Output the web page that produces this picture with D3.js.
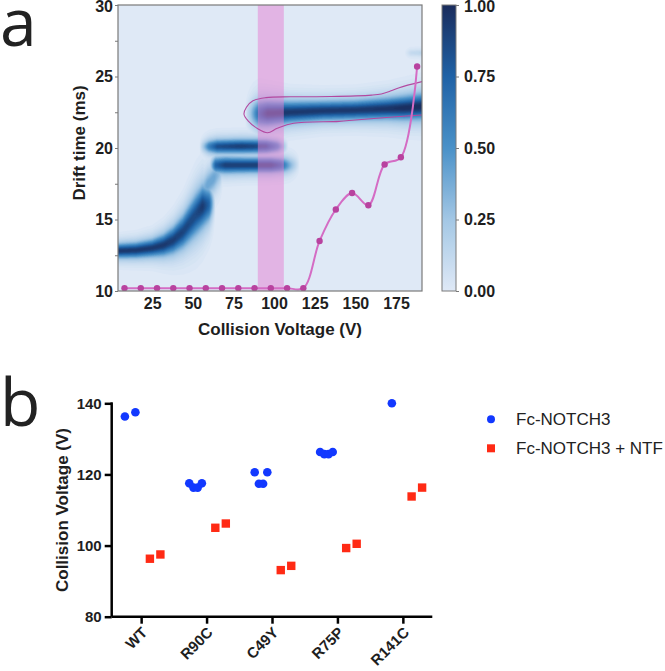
<!DOCTYPE html>
<html>
<head>
<meta charset="utf-8">
<script src="https://cdn.jsdelivr.net/npm/d3@7"></script>
<style>
  html, body { margin: 0; padding: 0; background: #ffffff; }
  svg { display: block; }
  text { font-family: "Liberation Sans", Arial, Helvetica, sans-serif; }
</style>
</head>
<body>
<div id="chart"></div>
<script>
// ---------------- DATA: panel a ----------------
// Drift-time ridges of the CIU fingerprint (voltage knots, centroid drift time, relative intensity, width in ms)
const compactVoltage   = [4, 15, 25, 32, 38, 44, 48, 52, 56, 60, 64];
const compactDrift     = [12.8, 12.85, 13.0, 13.2, 13.55, 14.15, 14.75, 15.35, 15.9, 16.05, 16.2];
const compactIntensity = [0.95, 0.95, 0.95, 0.95, 0.93, 0.9, 0.88, 0.88, 0.95, 0.75, 0.0];
const compactWidth     = [0.28, 0.3, 0.34, 0.42, 0.52, 0.64, 0.74, 0.82, 0.82, 0.7, 0.6];

const transVoltage   = [55, 59, 63, 67, 69];
const transDrift     = [16.9, 17.4, 17.9, 18.4, 18.6];
const transIntensity = [0.3, 0.42, 0.42, 0.3, 0.0];
const transWidth     = [0.6, 0.6, 0.6, 0.55, 0.5];

const midLowVoltage   = [60, 64, 70, 85, 98, 104, 110, 116];
const midLowDrift     = [18.75, 18.8, 18.8, 18.8, 18.8, 18.8, 18.8, 18.85];
const midLowIntensity = [0.0, 0.75, 0.92, 0.92, 0.92, 0.75, 0.35, 0.0];
const midLowWidth     = [0.32, 0.33, 0.32, 0.3, 0.3, 0.3, 0.32, 0.32];

const midHighVoltage   = [54, 60, 65, 80, 95, 102, 109];
const midHighDrift     = [20.1, 20.1, 20.1, 20.12, 20.12, 20.12, 20.1];
const midHighIntensity = [0.0, 0.6, 0.85, 0.92, 0.85, 0.55, 0.0];
const midHighWidth     = [0.25, 0.27, 0.28, 0.28, 0.28, 0.28, 0.27];

const unfoldedVoltage   = [82, 86, 91, 96, 110, 130, 150, 170, 180, 191];
const unfoldedDrift     = [22.35, 22.4, 22.4, 22.42, 22.5, 22.6, 22.65, 22.75, 22.8, 22.9];
const unfoldedIntensity = [0.0, 0.3, 0.75, 0.95, 0.95, 0.95, 0.95, 0.97, 1.0, 1.0];
const unfoldedWidth     = [0.5, 0.55, 0.55, 0.5, 0.42, 0.38, 0.38, 0.42, 0.46, 0.5];

const faintVoltage   = [180, 184, 191];
const faintDrift     = [26.65, 26.65, 26.65];
const faintIntensity = [0.0, 0.12, 0.15];
const faintWidth     = [0.16, 0.16, 0.16];

// Outline of the unfolded feature (voltage, drift time)
const outlineVoltage = [191, 171, 150, 140, 112, 102, 96, 90, 84, 81.5, 83, 87, 95, 110, 135, 160, 166, 172, 177, 191];
const outlineDrift   = [22.31, 22.15, 21.96, 21.86, 21.73, 21.38, 21.07, 21.35, 21.9, 22.36, 22.85, 23.3, 23.52, 23.58, 23.6, 23.7, 23.78, 24.0, 24.22, 24.64];

// Overlaid trace (magenta)
const traceVoltage = [8, 18, 28, 38, 48, 58, 68, 78, 88, 98, 108, 118, 128, 138, 148, 158, 168, 178, 188];
const traceValue   = [10.2, 10.2, 10.2, 10.2, 10.2, 10.2, 10.2, 10.2, 10.2, 10.2, 10.2, 10.2, 13.5, 15.7, 16.85, 16.0, 18.85, 19.35, 25.7];

const highlightRange = [90, 106];
const voltageTicks = [25, 50, 75, 100, 125, 150, 175];
const driftTicks = [10, 15, 20, 25, 30];
const driftMinorTicks = [10, 12.5, 15, 17.5, 20, 22.5, 25, 27.5, 30];
const colorbarTicks = [0, 0.25, 0.5, 0.75, 1];

// ---------------- DATA: panel b ----------------
const categories = ["WT", "R90C", "C49Y", "R75P", "R141C"];
const fcNotch3 = [
  [136.3, 137.5],
  [117.5, 116.3, 116.3, 117.5],
  [120.6, 117.4, 117.4, 120.6],
  [126.3, 125.7, 125.7, 126.3],
  [140.0]
];
const fcNotch3NTF = [
  [96.3, 97.5],
  [105.0, 106.2],
  [93.1, 94.3],
  [99.3, 100.5],
  [113.8, 116.3]
];
const seriesNames = ["Fc-NOTCH3", "Fc-NOTCH3 + NTF"];
const cvTicks = [80, 100, 120, 140];

// ---------------- DRAW ----------------
const W = 665, H = 671;
const svg = d3.select("#chart").append("svg").attr("width", W).attr("height", H);
const ink = "#1e1e1e";

// panel letters
svg.append("text").attr("x", 0).attr("y", 46).text("a")
  .style("font-family", "'Open Sans', sans-serif").style("font-size", "66px").attr("fill", "#222");
svg.append("text").attr("x", 0).attr("y", 426).text("b")
  .style("font-family", "'Open Sans', sans-serif").style("font-size", "66px").attr("fill", "#222");

// ---- Panel a ----
const pa = { left: 118, right: 422, top: 5, bottom: 291 };
const xV = d3.scaleLinear().domain([4, 191]).range([pa.left, pa.right]);
const yT = d3.scaleLinear().domain([10, 30]).range([pa.bottom, pa.top]);
const heatColor = d3.scaleLinear()
  .domain([0, 0.25, 0.5, 0.75, 1])
  .range(["#dfe9f6", "#a3c7e5", "#4a91c8", "#1f62a6", "#1a2c5c"])
  .clamp(true);

svg.append("clipPath").attr("id", "clipA").append("rect")
  .attr("x", pa.left).attr("y", pa.top).attr("width", pa.right - pa.left).attr("height", pa.bottom - pa.top);
const gA = svg.append("g").attr("clip-path", "url(#clipA)");
gA.append("rect").attr("x", pa.left).attr("y", pa.top)
  .attr("width", pa.right - pa.left).attr("height", pa.bottom - pa.top).attr("fill", heatColor(0));

const ridges = [
  { v: compactVoltage, c: compactDrift, i: compactIntensity, w: compactWidth },
  { v: transVoltage, c: transDrift, i: transIntensity, w: transWidth },
  { v: midLowVoltage, c: midLowDrift, i: midLowIntensity, w: midLowWidth },
  { v: midHighVoltage, c: midHighDrift, i: midHighIntensity, w: midHighWidth },
  { v: unfoldedVoltage, c: unfoldedDrift, i: unfoldedIntensity, w: unfoldedWidth },
  { v: faintVoltage, c: faintDrift, i: faintIntensity, w: faintWidth }
];
function ridgeAt(r, v, t) {
  const n = r.v.length;
  if (v < r.v[0] || v > r.v[n - 1]) return 0;
  let k = d3.bisectRight(r.v, v) - 1;
  if (k >= n - 1) k = n - 2;
  if (k < 0) k = 0;
  const f = (v - r.v[k]) / (r.v[k + 1] - r.v[k]);
  const c = r.c[k] + f * (r.c[k + 1] - r.c[k]);
  const I = r.i[k] + f * (r.i[k + 1] - r.i[k]);
  const w = r.w[k] + f * (r.w[k + 1] - r.w[k]);
  const d = (t - c) / w;
  const h = d / 2.0;
  return I * (0.65 * Math.exp(-0.5 * d * d) + 0.35 * Math.exp(-0.5 * h * h));
}
const vMin = 4, vMax = 191, tMin = 10, tMax = 30;
const nx = 374, ny = 400;
const dv = (vMax - vMin) / nx, dt = (tMax - tMin) / ny;
const grid = new Float64Array(nx * ny);
for (let j = 0; j < ny; j++) {
  const t = tMin + (j + 0.5) * dt;
  for (let i = 0; i < nx; i++) {
    const v = vMin + (i + 0.5) * dv;
    let m = 0;
    for (const r of ridges) { const val = ridgeAt(r, v, t); if (val > m) m = val; }
    grid[j * nx + i] = m;
  }
}
const levels = d3.range(0.02, 1.0001, 0.02);
const contours = d3.contours().size([nx, ny]).thresholds(levels)(grid);
const proj = d3.geoTransform({
  point: function (x, y) { this.stream.point(xV(vMin + x * dv), yT(tMin + y * dt)); }
});
const geo = d3.geoPath(proj);
gA.selectAll("path.heat").data(contours).join("path").attr("class", "heat")
  .attr("d", geo).attr("fill", d => heatColor(d.value)).attr("stroke", "none");

// highlight band
gA.append("rect")
  .attr("x", xV(highlightRange[0])).attr("y", pa.top)
  .attr("width", xV(highlightRange[1]) - xV(highlightRange[0])).attr("height", pa.bottom - pa.top)
  .attr("fill", "#e57fd2").attr("opacity", 0.5);

// outline
const outlinePts = outlineVoltage.map((v, k) => [v, outlineDrift[k]]);
gA.append("path").datum(outlinePts)
  .attr("d", d3.line().x(d => xV(d[0])).y(d => yT(d[1])).curve(d3.curveCatmullRom.alpha(0.5)))
  .attr("fill", "none").attr("stroke", "#b3489f").attr("stroke-width", 1.1);

// trace
const tracePts = traceVoltage.map((v, k) => [v, traceValue[k]]);
gA.append("path").datum(tracePts)
  .attr("d", d3.line().x(d => xV(d[0])).y(d => yT(d[1])).curve(d3.curveCatmullRom.alpha(0.5)))
  .attr("fill", "none").attr("stroke", "#d46cc4").attr("stroke-width", 2);
gA.selectAll("circle.tr").data(tracePts).join("circle").attr("class", "tr")
  .attr("cx", d => xV(d[0])).attr("cy", d => yT(d[1])).attr("r", 3.2).attr("fill", "#b8429f");

// frame
svg.append("rect").attr("x", pa.left).attr("y", pa.top)
  .attr("width", pa.right - pa.left).attr("height", pa.bottom - pa.top)
  .attr("fill", "none").attr("stroke", "#7a7a7a").attr("stroke-width", 1.2);

// axes a
const axXa = svg.append("g").attr("transform", `translate(0,${pa.bottom})`)
  .call(d3.axisBottom(xV).tickValues(voltageTicks).tickSize(0).tickPadding(7));
axXa.select(".domain").remove();
axXa.selectAll("text").style("font-size", "16px").style("font-weight", "bold").attr("fill", ink);

const axYaMinor = svg.append("g").attr("transform", `translate(${pa.left},0)`)
  .call(d3.axisLeft(yT).tickValues(driftMinorTicks).tickSize(3).tickFormat(""));
axYaMinor.select(".domain").remove();
axYaMinor.selectAll("line").attr("stroke", "#7a7a7a");
const axYa = svg.append("g").attr("transform", `translate(${pa.left},0)`)
  .call(d3.axisLeft(yT).tickValues(driftTicks).tickSize(0).tickPadding(5));
axYa.select(".domain").remove();
axYa.selectAll("text").style("font-size", "16px").style("font-weight", "bold").attr("fill", ink)
  .attr("y", d => d === 30 ? 1 : 0);

svg.append("text").attr("x", 280).attr("y", 335).attr("text-anchor", "middle")
  .style("font-size", "17px").style("font-weight", "bold").attr("fill", ink).text("Collision Voltage (V)");
svg.append("text").attr("transform", "translate(85,143) rotate(-90)").attr("text-anchor", "middle")
  .style("font-size", "17px").style("font-weight", "bold").attr("fill", ink).text("Drift time (ms)");

// colorbar
const cb = { x: 442, w: 14 };
const yC = d3.scaleLinear().domain([0, 1]).range([pa.bottom, pa.top]);
const grad = svg.append("defs").append("linearGradient").attr("id", "cbGrad")
  .attr("x1", 0).attr("y1", 1).attr("x2", 0).attr("y2", 0);
grad.selectAll("stop").data(d3.range(0, 1.0001, 0.05)).join("stop")
  .attr("offset", d => d).attr("stop-color", d => heatColor(d));
svg.append("rect").attr("x", cb.x).attr("y", pa.top).attr("width", cb.w).attr("height", pa.bottom - pa.top)
  .attr("fill", "url(#cbGrad)").attr("stroke", "#7a7a7a").attr("stroke-width", 1);
const axC = svg.append("g").attr("transform", `translate(${cb.x + cb.w},0)`)
  .call(d3.axisRight(yC).tickValues(colorbarTicks).tickSize(3).tickPadding(5).tickFormat(d3.format(".2f")));
axC.select(".domain").remove();
axC.selectAll("line").attr("stroke", "#7a7a7a");
axC.selectAll("text").style("font-size", "16px").style("font-weight", "bold").attr("fill", ink)
  .attr("y", d => d === 1 ? 1 : 0);

// ---- Panel b ----
const pb = { left: 111.7, right: 432.3, top: 403.3, bottom: 616.7 };
const xC = d3.scalePoint().domain(categories).range([pb.left, pb.right]).padding(0.45);
const yCV = d3.scaleLinear().domain([80, 140]).range([pb.bottom, pb.top]);

const axXb = svg.append("g").attr("transform", `translate(0,${pb.bottom})`)
  .call(d3.axisBottom(xC).tickSize(7).tickSizeOuter(0).tickPadding(4));
axXb.select(".domain").attr("stroke", "#000").attr("stroke-width", 2.5).attr("d", `M${pb.left},0H${pb.right}`);
axXb.selectAll("line").attr("stroke", "#000").attr("stroke-width", 2.5);
axXb.selectAll("text").style("font-size", "15px").style("font-weight", "bold").attr("fill", ink)
  .attr("text-anchor", "end").attr("x", 0).attr("y", 0).attr("dy", "0.35em")
  .attr("transform", "translate(3,13) rotate(-45)");

const axYb = svg.append("g").attr("transform", `translate(${pb.left},0)`)
  .call(d3.axisLeft(yCV).tickValues(cvTicks).tickSize(7).tickSizeOuter(0).tickPadding(3));
axYb.select(".domain").attr("stroke", "#000").attr("stroke-width", 2.5).attr("d", `M0,${pb.top - 1}V${pb.bottom}`);
axYb.selectAll("line").attr("stroke", "#000").attr("stroke-width", 2.5);
axYb.selectAll("text").style("font-size", "15px").style("font-weight", "bold").attr("fill", ink);

svg.append("text").attr("transform", "translate(68,510) rotate(-90)").attr("text-anchor", "middle")
  .style("font-size", "17px").style("font-weight", "bold").attr("fill", ink).text("Collision Voltage (V)");

const blue = "#1238ff", red = "#ff2a14";
function spread(n) { const s = n <= 2 ? 10.5 : 4.2; return d3.range(n).map(k => (k - (n - 1) / 2) * s); }
const bluePts = [], redPts = [];
categories.forEach((c, ci) => {
  const ob = spread(fcNotch3[ci].length);
  fcNotch3[ci].forEach((v, k) => bluePts.push({ x: xC(c) - 11 + ob[k], y: yCV(v) }));
  const orr = spread(fcNotch3NTF[ci].length);
  fcNotch3NTF[ci].forEach((v, k) => redPts.push({ x: xC(c) + 14 + orr[k], y: yCV(v) }));
});
svg.selectAll("circle.b").data(bluePts).join("circle").attr("class", "b")
  .attr("cx", d => d.x).attr("cy", d => d.y).attr("r", 4.3).attr("fill", blue);
svg.selectAll("rect.r").data(redPts).join("rect").attr("class", "r")
  .attr("x", d => d.x - 4.2).attr("y", d => d.y - 4.2).attr("width", 8.4).attr("height", 8.4).attr("fill", red);

// legend
const lg = svg.append("g");
lg.append("circle").attr("cx", 491).attr("cy", 419.3).attr("r", 4).attr("fill", blue);
lg.append("rect").attr("x", 487).attr("y", 444.3).attr("width", 8).attr("height", 8).attr("fill", red);
seriesNames.forEach((s, k) => {
  lg.append("text").attr("x", 516).attr("y", 419.3 + k * 29).attr("dy", "0.35em")
    .style("font-size", "17px").attr("fill", "#222").text(s);
});
</script>
</body>
</html>
